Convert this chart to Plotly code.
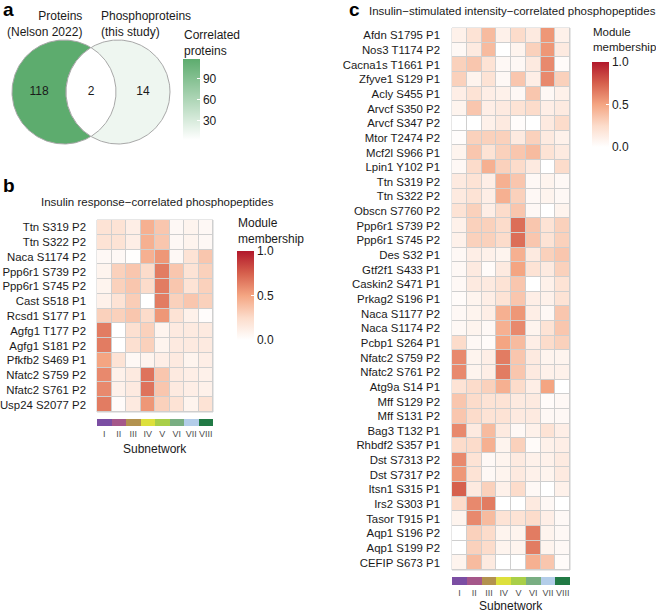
import numpy as np
import plotly.graph_objects as go
from plotly.colors import sample_colorscale

FONT = "Liberation Sans, Arial, sans-serif"
W, H = 656, 612

# ---------------- data ----------------
subnetworks = ["I", "II", "III", "IV", "V", "VI", "VII", "VIII"]
subnet_colors = ["#7b4ea3", "#a5578a", "#b3924f", "#dde03c", "#a9cf48", "#79ae82", "#b3cde9", "#217a45"]

venn_labels = ["Proteins<br>(Nelson 2022)", "Phosphoproteins<br>(this study)"]
venn_only_left = 118
venn_both = 2
venn_only_right = 14
venn_ticks = [30, 60, 90]

b_rows = ["Ttn S319 P2", "Ttn S322 P2", "Naca S1174 P2", "Ppp6r1 S739 P2", "Ppp6r1 S745 P2",
          "Cast S518 P1", "Rcsd1 S177 P1", "Agfg1 T177 P2", "Agfg1 S181 P2", "Pfkfb2 S469 P1",
          "Nfatc2 S759 P2", "Nfatc2 S761 P2", "Usp24 S2077 P2"]
b_values = [
    [0.20, 0.20, 0.12, 0.45, 0.35, 0.05, 0.08, 0.05],
    [0.20, 0.20, 0.12, 0.45, 0.35, 0.05, 0.08, 0.05],
    [0.05, 0.05, 0.01, 0.45, 0.55, 0.05, 0.20, 0.35],
    [0.08, 0.30, 0.35, 0.25, 0.65, 0.35, 0.20, 0.30],
    [0.08, 0.30, 0.35, 0.25, 0.65, 0.35, 0.20, 0.30],
    [0.10, 0.20, 0.32, 0.00, 0.65, 0.30, 0.35, 0.30],
    [0.30, 0.30, 0.35, 0.25, 0.55, 0.20, 0.10, 0.02],
    [0.65, 0.00, 0.22, 0.30, 0.08, 0.15, 0.15, 0.15],
    [0.65, 0.00, 0.22, 0.30, 0.08, 0.15, 0.15, 0.15],
    [0.50, 0.20, 0.05, 0.08, 0.12, 0.15, 0.08, 0.12],
    [0.60, 0.10, 0.15, 0.68, 0.35, 0.15, 0.12, 0.10],
    [0.60, 0.10, 0.15, 0.68, 0.35, 0.15, 0.12, 0.10],
    [0.65, 0.03, 0.15, 0.55, 0.30, 0.20, 0.08, 0.20],
]

c_rows = ["Afdn S1795 P1", "Nos3 T1174 P2", "Cacna1s T1661 P1", "Zfyve1 S129 P1", "Acly S455 P1",
          "Arvcf S350 P2", "Arvcf S347 P2", "Mtor T2474 P2", "Mcf2l S966 P1", "Lpin1 Y102 P1",
          "Ttn S319 P2", "Ttn S322 P2", "Obscn S7760 P2", "Ppp6r1 S739 P2", "Ppp6r1 S745 P2",
          "Des S32 P1", "Gtf2f1 S433 P1", "Caskin2 S471 P1", "Prkag2 S196 P1", "Naca S1177 P2",
          "Naca S1174 P2", "Pcbp1 S264 P1", "Nfatc2 S759 P2", "Nfatc2 S761 P2", "Atg9a S14 P1",
          "Mff S129 P2", "Mff S131 P2", "Bag3 T132 P1", "Rhbdf2 S357 P1", "Dst S7313 P2",
          "Dst S7317 P2", "Itsn1 S315 P1", "Irs2 S303 P1", "Tasor T915 P1", "Aqp1 S196 P2",
          "Aqp1 S199 P2", "CEFIP S673 P1"]
c_values = [
    [0.10, 0.20, 0.40, 0.10, 0.25, 0.15, 0.55, 0.10],
    [0.05, 0.15, 0.40, 0.00, 0.08, 0.30, 0.55, 0.15],
    [0.30, 0.35, 0.20, 0.05, 0.05, 0.15, 0.60, 0.03],
    [0.30, 0.08, 0.20, 0.05, 0.35, 0.12, 0.60, 0.30],
    [0.12, 0.20, 0.12, 0.10, 0.05, 0.35, 0.05, 0.10],
    [0.08, 0.35, 0.12, 0.15, 0.20, 0.25, 0.12, 0.15],
    [0.00, 0.00, 0.10, 0.15, 0.02, 0.00, 0.15, 0.25],
    [0.02, 0.30, 0.30, 0.30, 0.15, 0.30, 0.15, 0.10],
    [0.08, 0.35, 0.20, 0.30, 0.35, 0.40, 0.20, 0.15],
    [0.05, 0.25, 0.45, 0.30, 0.25, 0.15, 0.00, 0.25],
    [0.15, 0.20, 0.12, 0.45, 0.35, 0.05, 0.08, 0.05],
    [0.15, 0.20, 0.12, 0.45, 0.30, 0.05, 0.08, 0.05],
    [0.20, 0.30, 0.12, 0.25, 0.35, 0.05, 0.00, 0.08],
    [0.10, 0.30, 0.30, 0.25, 0.70, 0.35, 0.20, 0.30],
    [0.10, 0.30, 0.30, 0.25, 0.70, 0.35, 0.20, 0.30],
    [0.05, 0.12, 0.10, 0.08, 0.45, 0.15, 0.30, 0.35],
    [0.05, 0.15, 0.03, 0.15, 0.50, 0.20, 0.15, 0.30],
    [0.05, 0.15, 0.15, 0.20, 0.35, 0.00, 0.10, 0.20],
    [0.03, 0.08, 0.12, 0.20, 0.35, 0.12, 0.10, 0.20],
    [0.05, 0.08, 0.12, 0.45, 0.55, 0.12, 0.05, 0.35],
    [0.05, 0.08, 0.05, 0.45, 0.60, 0.08, 0.20, 0.35],
    [0.25, 0.05, 0.03, 0.50, 0.40, 0.12, 0.25, 0.30],
    [0.60, 0.08, 0.12, 0.65, 0.35, 0.15, 0.08, 0.08],
    [0.60, 0.08, 0.12, 0.65, 0.35, 0.15, 0.10, 0.10],
    [0.20, 0.25, 0.30, 0.45, 0.25, 0.12, 0.50, 0.00],
    [0.35, 0.25, 0.20, 0.20, 0.15, 0.15, 0.03, 0.05],
    [0.35, 0.25, 0.20, 0.20, 0.15, 0.15, 0.05, 0.05],
    [0.60, 0.15, 0.40, 0.15, 0.05, 0.10, 0.20, 0.12],
    [0.25, 0.25, 0.45, 0.08, 0.30, 0.03, 0.10, 0.12],
    [0.60, 0.20, 0.05, 0.08, 0.15, 0.10, 0.10, 0.15],
    [0.55, 0.20, 0.05, 0.08, 0.15, 0.10, 0.08, 0.15],
    [0.75, 0.15, 0.30, 0.10, 0.25, 0.05, 0.00, 0.10],
    [0.25, 0.60, 0.65, 0.00, 0.00, 0.15, 0.05, 0.00],
    [0.08, 0.60, 0.40, 0.20, 0.20, 0.25, 0.12, 0.05],
    [0.00, 0.30, 0.25, 0.08, 0.08, 0.65, 0.08, 0.05],
    [0.00, 0.30, 0.25, 0.08, 0.08, 0.65, 0.08, 0.05],
    [0.08, 0.40, 0.15, 0.00, 0.00, 0.45, 0.35, 0.03],
]

# ---------------- styles ----------------
heat_scale = [[0, "#ffffff"], [0.25, "#fcdccb"], [0.5, "#f4a582"], [0.75, "#d6604d"], [1, "#b2182b"]]
venn_scale = [[0, "#ffffff"], [1, "#5dac6e"]]
GRID = "#cfcfcf"
TXT = "#1a1a1a"


def px(x):
    return x / W


def py(y):
    return 1 - y / H


fig = go.Figure()

# ---------------- panel a: Venn ----------------
vmin = min(venn_only_left, venn_both, venn_only_right)
vmax = max(venn_only_left, venn_both, venn_only_right)


def vcol(v):
    return sample_colorscale(venn_scale, [(v - vmin) / (vmax - vmin)])[0]


R = 52.0
CY = 92.0
CLX, CRX = 64.0, 118.0
t = np.linspace(0, 2 * np.pi, 240)
half = (CRX - CLX) / 2
a = np.arccos(half / R)
lens_t1 = np.linspace(np.pi - a, np.pi + a, 120)
lens_t2 = np.linspace(-a, a, 120)
lens_x = np.concatenate([CRX + R * np.cos(lens_t1), CLX + R * np.cos(lens_t2)])
lens_y = np.concatenate([CY + R * np.sin(lens_t1), CY + R * np.sin(lens_t2)])

circ_line = dict(color="#a8a8a8", width=1)
fig.add_trace(go.Scatter(x=CLX + R * np.cos(t), y=CY + R * np.sin(t), mode="lines", fill="toself",
                         fillcolor=vcol(venn_only_left), line=circ_line, hoverinfo="skip",
                         showlegend=False, xaxis="x", yaxis="y"))
fig.add_trace(go.Scatter(x=CRX + R * np.cos(t), y=CY + R * np.sin(t), mode="lines", fill="toself",
                         fillcolor=vcol(venn_only_right), line=circ_line, hoverinfo="skip",
                         showlegend=False, xaxis="x", yaxis="y"))
fig.add_trace(go.Scatter(x=lens_x, y=lens_y, mode="lines", fill="toself",
                         fillcolor=vcol(venn_both), line=circ_line, hoverinfo="skip",
                         showlegend=False, xaxis="x", yaxis="y"))
mid_x = (CLX + CRX) / 2
fig.add_trace(go.Scatter(
    x=[((CLX - R) + (CRX - R)) / 2, mid_x, ((CLX + R) + (CRX + R)) / 2],
    y=[CY, CY, CY], mode="text",
    text=[str(venn_only_left), str(venn_both), str(venn_only_right)],
    textfont=dict(family=FONT, size=12, color=TXT), hoverinfo="skip", showlegend=False,
    xaxis="x", yaxis="y"))
# colorbar for venn
fig.add_trace(go.Scatter(x=[None, None], y=[None, None], mode="markers",
                         marker=dict(color=[vmin, vmax], coloraxis="coloraxis3", size=0),
                         showlegend=False, hoverinfo="skip", xaxis="x", yaxis="y"))

# ---------------- panel b heatmap ----------------
fig.add_trace(go.Heatmap(z=b_values, x=subnetworks, y=b_rows, coloraxis="coloraxis",
                         xgap=1, ygap=1, xaxis="x2", yaxis="y2", hoverinfo="skip"))
strip_scale = []
n = len(subnet_colors)
for i, c in enumerate(subnet_colors):
    strip_scale += [[i / n, c], [(i + 1) / n, c]]
fig.add_trace(go.Heatmap(z=[list(range(n))], x=subnetworks, y=["s"], colorscale=strip_scale,
                         zmin=-0.5, zmax=n - 0.5, showscale=False, xaxis="x3", yaxis="y3",
                         hoverinfo="skip"))

# ---------------- panel c heatmap ----------------
fig.add_trace(go.Heatmap(z=c_values, x=subnetworks, y=c_rows, coloraxis="coloraxis2",
                         xgap=1, ygap=1, xaxis="x4", yaxis="y4", hoverinfo="skip"))
fig.add_trace(go.Heatmap(z=[list(range(n))], x=subnetworks, y=["s"], colorscale=strip_scale,
                         zmin=-0.5, zmax=n - 0.5, showscale=False, xaxis="x5", yaxis="y5",
                         hoverinfo="skip"))

# ---------------- layout ----------------
hid = dict(showticklabels=False, ticks="", showgrid=False, zeroline=False, showline=False)
lab_font = dict(family=FONT, size=11.4, color=TXT)
rom_font = dict(family=FONT, size=9, color="#4d4d4d")


def cbar(xp, ytop, ybot):
    return dict(x=px(xp), xanchor="left", y=py((ytop + ybot) / 2), yanchor="middle",
                len=(ybot - ytop) / H, lenmode="fraction", thickness=17, thicknessmode="pixels",
                tickvals=[0, 0.5, 1], ticktext=["0.0", "0.5", "1.0"], ticks="inside",
                tickcolor="white", ticklen=3, outlinewidth=0, xpad=0, ypad=0,
                tickfont=dict(family=FONT, size=12, color=TXT))


fig.update_layout(
    width=W, height=H, margin=dict(l=0, r=0, t=0, b=0),
    paper_bgcolor="white", plot_bgcolor="white",
    font=dict(family=FONT, color=TXT),
    xaxis=dict(domain=[0, px(230)], range=[0, 230], anchor="y", **hid),
    yaxis=dict(domain=[py(160), 1], range=[160, 0], anchor="x", **hid),
    xaxis2=dict(domain=[px(97), px(213)], anchor="y2", **hid),
    yaxis2=dict(domain=[py(412), py(220)], anchor="x2", autorange="reversed", ticks="",
                showgrid=False, zeroline=False, tickfont=lab_font, ticklabelstandoff=10),
    xaxis3=dict(domain=[px(97), px(213)], anchor="y3", ticks="", showgrid=False, zeroline=False,
                tickfont=rom_font, ticklabelstandoff=1),
    yaxis3=dict(domain=[py(426), py(419)], anchor="x3", **hid),
    xaxis4=dict(domain=[px(452), px(570)], anchor="y4", **hid),
    yaxis4=dict(domain=[py(570), py(28)], anchor="x4", autorange="reversed", ticks="",
                showgrid=False, zeroline=False, tickfont=lab_font, ticklabelstandoff=11),
    xaxis5=dict(domain=[px(452), px(570)], anchor="y5", ticks="", showgrid=False, zeroline=False,
                tickfont=rom_font, ticklabelstandoff=1),
    yaxis5=dict(domain=[py(585), py(577)], anchor="x5", **hid),
    coloraxis=dict(colorscale=heat_scale, cmin=0, cmax=1, colorbar=cbar(237, 251, 340)),
    coloraxis2=dict(colorscale=heat_scale, cmin=0, cmax=1, colorbar=cbar(592, 62, 147)),
    coloraxis3=dict(colorscale=venn_scale, cmin=vmin, cmax=vmax,
                    colorbar=dict(x=px(183), xanchor="left", y=py(99.5), yanchor="middle",
                                  len=81 / H, lenmode="fraction", thickness=17,
                                  thicknessmode="pixels", tickvals=venn_ticks, ticks="inside",
                                  tickcolor="white", ticklen=3, outlinewidth=0, xpad=0, ypad=0,
                                  tickfont=dict(family=FONT, size=12, color=TXT))),
)

# grid background rectangles for heatmaps
for ax in ["x2", "x4"]:
    yax = "y2" if ax == "x2" else "y4"
    fig.add_shape(type="rect", xref=f"{ax} domain", yref=f"{yax} domain", x0=0, x1=1, y0=0, y1=1,
                  fillcolor=GRID, line=dict(color=GRID, width=1), layer="below")

ann = []


def add_text(text, x, y, size=12, xanchor="center", align="center", bold=False, yanchor="middle"):
    ann.append(dict(text=f"<b>{text}</b>" if bold else text, x=px(x), y=py(y), xref="paper",
                    yref="paper", xanchor=xanchor, yanchor=yanchor, align=align, showarrow=False,
                    font=dict(family=FONT, size=size, color="black" if bold else TXT)))


add_text("a", 1, -3, size=19, xanchor="left", bold=True, yanchor="top")
add_text("b", 1, 185, size=19, xanchor="left", bold=True)
add_text("c", 347, -3, size=19, xanchor="left", bold=True, yanchor="top")
add_text(venn_labels[0], 84, 24, size=12, xanchor="right", align="right")
add_text(venn_labels[1], 99, 24, size=12, xanchor="left", align="left")
add_text("Correlated<br>proteins", 182, 43, size=12, xanchor="left", align="left")
add_text("Insulin response\u2212correlated phosphopeptides", 157, 202, size=11.5)
add_text("Insulin\u2212stimulated intensity\u2212correlated phosphopeptides", 512, 11, size=11.5)
add_text("Module<br>membership", 236, 231, size=12, xanchor="left", align="left")
add_text("Module<br>membership", 591, 39, size=11.5, xanchor="left", align="left")
add_text("Subnetwork", 155, 449, size=12)
add_text("Subnetwork", 511, 606, size=12)
fig.update_layout(annotations=ann)

fig.write_html("out.html", config={"displayModeBar": False},
               post_script="document.body.style.margin='0';document.body.style.padding='0';")
